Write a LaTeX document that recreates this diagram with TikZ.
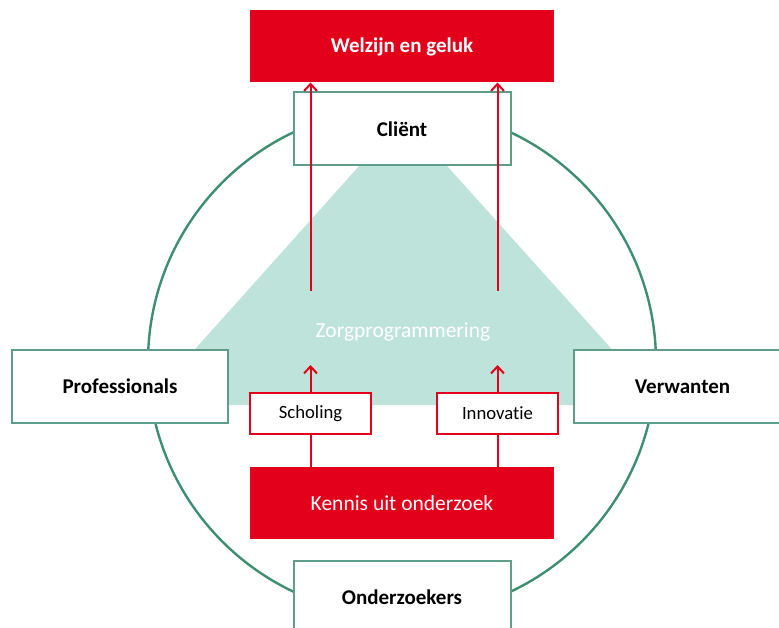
\documentclass[tikz,border=0pt]{standalone}
\usepackage{fontspec}
\setmainfont{Carlito}[Ligatures={NoCommon}]
\usetikzlibrary{positioning,arrows.meta}
\definecolor{rood}{HTML}{E2001A}
\definecolor{zorggroen}{HTML}{BEE3DA}
\definecolor{cirkelgroen}{HTML}{3E8E70}
\definecolor{randgroen}{HTML}{5E9E88}
\tikzset{
>={Straight Barb[length=7pt,width=13pt]},
  rolbox/.style={
    rectangle,
    draw=randgroen, line width=2pt,
    fill=white,
    minimum width=217pt,
    minimum height=73pt,
    outer sep=0pt,
    font=\fontsize{21}{25}\selectfont\bfseries},
  rodebox/.style={
    rectangle,
    fill=rood,
    text=white,
    minimum width=304pt,
    minimum height=72pt,
    outer sep=0pt},
  middel/.style={
    rectangle,
    draw=rood, line width=2pt,
    fill=white,
    minimum width=121pt,
    minimum height=41pt,
    outer sep=0pt,
    font=\fontsize{18.7}{22}\selectfont},
  pijl/.style={draw=rood, line width=2pt},
}

\begin{document}
\begin{tikzpicture}
  [x=1pt, y=-1pt]
    \useasboundingbox (0,0) rectangle (779,628);
    \clip (0,0) rectangle (779,628);

    % zorgprogrammering en de cirkel
    \fill[zorggroen] (403,117) -- (145,405) -- (662,405) -- cycle;
    \draw[cirkelgroen, line width=2.4pt] (402,362) circle[radius=254pt];

    \node[rodebox, font=\fontsize{21}{25}\selectfont\bfseries] (welzijn) at (402,46.5) {Welzijn en geluk};
    \node[rolbox, below=10pt of welzijn] (client) {Cliënt};
    \node[rolbox, minimum width=216pt] (prof) at (120,386.5) {Professionals};
    \node[rolbox, anchor=west] (verw) at (574,386.5) {Verwanten};
    \node[rolbox] (onderz) at (402,597.5) {Onderzoekers};

    \node[rodebox, font=\fontsize{21.5}{25}\selectfont] (kennis) at (402,503) {Kennis uit onderzoek};
    \node[middel] (scholing) at (310.5,413.5) {Scholing};
    \node[middel] (innov) at (497.5,413.5) {Innovatie};

    \node[text=white, font=\fontsize{21.5}{25}\selectfont] (zorg) at (403,332) {Zorgprogrammering};

    \coordinate (links-boven) at (310.5,291);
    \coordinate (rechts-boven) at (497.5,291);
    \coordinate (links-zorg) at (310.5,365);
    \coordinate (rechts-zorg) at (497.5,365);

    \draw[pijl,->] (links-boven) -- (links-boven |- welzijn.south);
    \draw[pijl,->] (rechts-boven) -- (rechts-boven |- welzijn.south);

    \draw[pijl] (kennis.north -| scholing) -- (scholing.south);
    \draw[pijl] (kennis.north -| innov) -- (innov.south);
    \draw[pijl,->] (scholing) -- (links-zorg);
    \draw[pijl,->] (innov) -- (rechts-zorg);

  \end{tikzpicture}
\end{document}
